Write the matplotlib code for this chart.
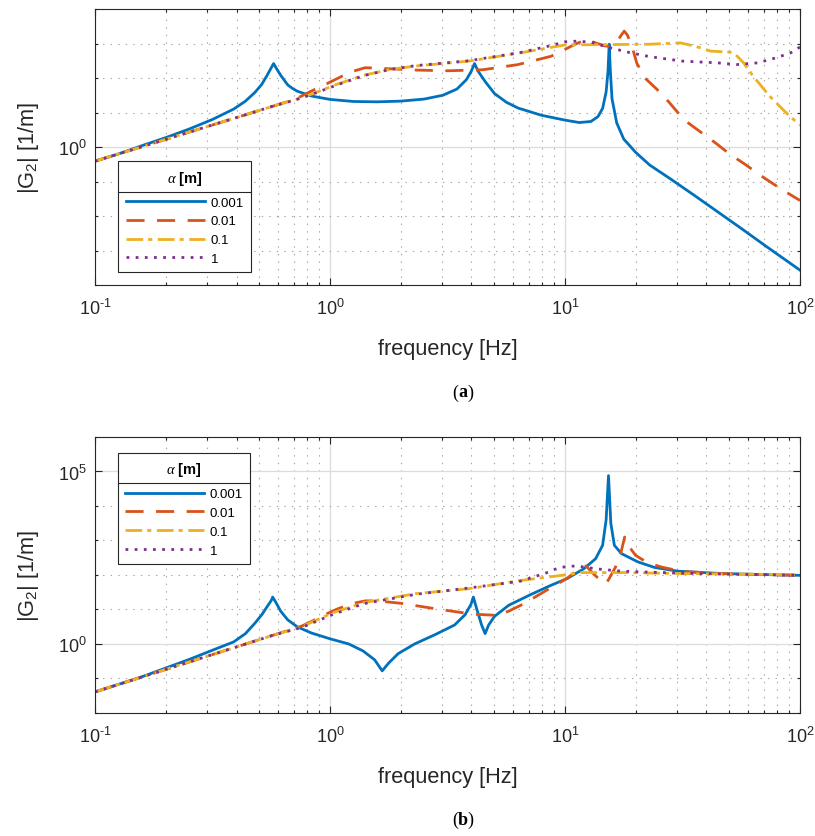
import numpy as np
import matplotlib
matplotlib.use("Agg")
import matplotlib.pyplot as plt
from matplotlib.ticker import FixedLocator, LogLocator, NullFormatter, FuncFormatter
from matplotlib.lines import Line2D

plt.rcParams['font.family'] = 'Liberation Sans'
plt.rcParams['mathtext.fontset'] = 'custom'
plt.rcParams['mathtext.rm'] = 'Liberation Sans'
plt.rcParams['mathtext.it'] = 'Liberation Serif:italic'
plt.rcParams['mathtext.bf'] = 'Liberation Sans:bold'

# data, as log10(frequency) and log10(|G2|)
alpha_labels = ['0.001', '0.01', '0.1', '1']

# (a)
a1_logf = [-1.0, -0.9, -0.8, -0.7, -0.6, -0.5, -0.41, -0.36, -0.32, -0.29, -0.266, -0.25, -0.24, -0.23,
           -0.21, -0.18, -0.16, -0.14, -0.08, 0.0, 0.1, 0.2, 0.3, 0.4, 0.48, 0.54, 0.58, 0.60, 0.615, 0.63,
           0.66, 0.70, 0.75, 0.80, 0.90, 1.00, 1.06, 1.11, 1.14, 1.16, 1.175, 1.183, 1.188, 1.193, 1.20,
           1.22, 1.25, 1.30, 1.36, 1.45, 1.55, 1.65, 1.75, 1.85, 1.95, 2.0]
a1_logg = [-0.41, -0.2, 0.04, 0.27, 0.52, 0.80, 1.10, 1.33, 1.58, 1.82, 2.10, 2.30, 2.42, 2.30,
           2.08, 1.80, 1.70, 1.62, 1.48, 1.38, 1.32, 1.31, 1.33, 1.39, 1.50, 1.68, 1.95, 2.18, 2.42, 2.20,
           1.90, 1.55, 1.30, 1.13, 0.92, 0.78, 0.71, 0.74, 0.88, 1.12, 1.6, 2.2, 2.98, 2.2, 1.4,
           0.70, 0.23, -0.15, -0.52, -0.93, -1.40, -1.88, -2.36, -2.85, -3.33, -3.57]

a2_logf = [-1.0, -0.7, -0.4, -0.24, -0.15, -0.08, 0.0, 0.05, 0.10, 0.15, 0.25, 0.37, 0.5, 0.65, 0.8,
           0.94, 1.0, 1.04, 1.09, 1.13, 1.17, 1.19, 1.22, 1.24, 1.252, 1.265, 1.285, 1.305, 1.34, 1.39,
           1.44, 1.48, 1.52, 1.58, 1.64, 1.70, 1.77, 1.84, 1.92, 2.0]
a2_logg = [-0.41, 0.22, 0.85, 1.19, 1.38, 1.62, 1.88, 2.05, 2.20, 2.30, 2.27, 2.23, 2.21, 2.24, 2.39,
           2.63, 2.83, 2.97, 3.12, 3.02, 2.93, 2.92, 3.04, 3.25, 3.36, 3.25, 2.92, 2.44, 2.0, 1.68,
           1.32, 1.0, 0.72, 0.42, 0.12, -0.20, -0.52, -0.86, -1.22, -1.55]

a3_logf = [-1.0, -0.7, -0.4, -0.24, -0.15, -0.08, 0.03, 0.144, 0.255, 0.366, 0.59, 0.81, 1.0, 1.2,
           1.36, 1.49, 1.55, 1.62, 1.70, 1.72, 1.76, 1.80, 1.87, 1.94, 2.0]
a3_logg = [-0.41, 0.22, 0.85, 1.19, 1.37, 1.53, 1.82, 2.08, 2.25, 2.35, 2.49, 2.73, 2.96, 2.97,
           2.98, 3.02, 2.93, 2.78, 2.75, 2.72, 2.44, 2.06, 1.48, 1.0, 0.63]

a4_logf = [-1.0, -0.7, -0.4, -0.24, -0.15, -0.08, 0.03, 0.144, 0.255, 0.366, 0.59, 0.81, 0.94, 1.0,
           1.05, 1.11, 1.19, 1.28, 1.36, 1.5, 1.65, 1.73, 1.82, 1.90, 1.96, 2.0]
a4_logg = [-0.41, 0.22, 0.85, 1.19, 1.36, 1.52, 1.80, 2.07, 2.25, 2.36, 2.50, 2.74, 2.94, 3.05,
           3.07, 3.04, 2.88, 2.73, 2.62, 2.49, 2.44, 2.39, 2.44, 2.59, 2.73, 2.90]

# (b)
b1_logf = [-1.0, -0.9, -0.8, -0.7, -0.6, -0.5, -0.41, -0.36, -0.32, -0.29, -0.266, -0.25, -0.244, -0.23,
           -0.21, -0.18, -0.14, -0.08, 0.0, 0.08, 0.14, 0.19, 0.222, 0.25, 0.29, 0.36, 0.45, 0.53, 0.575,
           0.60, 0.61, 0.625, 0.645, 0.66, 0.675, 0.70, 0.76, 0.85, 0.94, 1.01, 1.08, 1.13, 1.16, 1.175,
           1.185, 1.195, 1.21, 1.24, 1.31, 1.38, 1.48, 1.67, 2.0]
b1_logg = [-1.39, -1.17, -0.95, -0.70, -0.45, -0.18, 0.06, 0.30, 0.60, 0.85, 1.10, 1.26, 1.36, 1.2,
           0.95, 0.70, 0.50, 0.32, 0.15, 0.0, -0.2, -0.46, -0.78, -0.55, -0.28, 0.0, 0.28, 0.55, 0.85,
           1.15, 1.36, 1.0, 0.55, 0.30, 0.55, 0.80, 1.12, 1.42, 1.70, 1.90, 2.18, 2.47, 2.86, 3.6,
           4.88, 3.5, 2.86, 2.62, 2.38, 2.22, 2.11, 2.04, 1.99]

b2_logf = [-1.0, -0.7, -0.4, -0.244, -0.12, -0.08, 0.0, 0.033, 0.10, 0.15, 0.20, 0.30, 0.45, 0.55,
           0.62, 0.71, 0.76, 0.82, 0.92, 1.01, 1.07, 1.09, 1.12, 1.15, 1.175, 1.19, 1.215, 1.235, 1.254,
           1.27, 1.30, 1.35, 1.41, 1.5, 1.7, 2.0]
b2_logg = [-1.39, -0.74, -0.09, 0.25, 0.52, 0.65, 0.92, 1.02, 1.18, 1.25, 1.25, 1.18, 1.02, 0.92,
           0.86, 0.83, 0.95, 1.15, 1.55, 1.91, 2.23, 2.26, 2.04, 1.85, 1.75, 1.92, 2.23, 2.57, 3.10,
           2.85, 2.57, 2.36, 2.23, 2.10, 2.03, 1.99]

b3_logf = [-1.0, -0.7, -0.4, -0.244, -0.12, 0.01, 0.144, 0.366, 0.588, 0.81, 0.987, 1.07, 1.25, 1.5, 2.0]
b3_logg = [-1.39, -0.74, -0.09, 0.25, 0.50, 0.90, 1.20, 1.46, 1.60, 1.84, 1.99, 2.07, 2.07, 2.04, 2.01]

b4_logf = [-1.0, -0.7, -0.4, -0.244, -0.12, 0.01, 0.144, 0.366, 0.588, 0.81, 0.92, 0.97, 1.01, 1.05,
           1.13, 1.24, 1.5, 2.0]
b4_logg = [-1.39, -0.74, -0.09, 0.25, 0.48, 0.85, 1.17, 1.44, 1.62, 1.82, 2.06, 2.20, 2.25, 2.26,
           2.18, 2.11, 2.05, 1.99]

colors = ['#0072BD', '#D95319', '#EDB120', '#7E2F8E']
styles = ['-', (0, (6.5, 4.5)), (0, (6, 1.8, 1.5, 2.0)), (0, (1, 2.3))]
axis_col = '#262626'


def pow10_label(v, pos):
    k = int(round(np.log10(v)))
    return r'$\mathdefault{10^{%s}}$' % str(k).replace('-', '\u2010')


def draw_panel(ax, series, ylog_range, major_exp, leg_anchor):
    for (lf, lg), c, ls, lab in zip(series, colors, styles, alpha_labels):
        ax.plot(10 ** np.array(lf), 10 ** np.array(lg), color=c, ls=ls, lw=2.0, label=lab)
    ax.set_xscale('log')
    ax.set_yscale('log')
    ax.set_xlim(0.1, 100)
    ax.set_ylim(10.0 ** ylog_range[0], 10.0 ** ylog_range[1])

    ax.xaxis.set_major_locator(LogLocator(base=10, numticks=10))
    ax.xaxis.set_minor_locator(LogLocator(base=10, subs=np.arange(2, 10), numticks=20))
    ax.xaxis.set_major_formatter(FuncFormatter(pow10_label))
    ax.xaxis.set_minor_formatter(NullFormatter())
    decades = range(ylog_range[0], ylog_range[1] + 1)
    ax.yaxis.set_major_locator(FixedLocator([10.0 ** k for k in major_exp]))
    ax.yaxis.set_minor_locator(FixedLocator([10.0 ** k for k in decades if k not in major_exp]))
    ax.yaxis.set_major_formatter(FuncFormatter(pow10_label))
    ax.yaxis.set_minor_formatter(NullFormatter())

    ax.set_axisbelow(True)
    ax.grid(True, which='major', color='#dcdcdc', lw=0.9, ls='-')
    ax.grid(True, which='minor', color='#a8a8a8', lw=0.8, ls=(0, (1.3, 5.5)))
    ax.tick_params(which='both', direction='in', top=True, right=True, colors=axis_col,
                   labelsize=13, width=0.8)
    ax.tick_params(which='major', length=5)
    ax.tick_params(which='minor', length=2.5)
    ax.tick_params(axis='x', which='major', pad=9)
    ax.tick_params(axis='y', which='major', pad=6)
    for sp in ax.spines.values():
        sp.set_color(axis_col)
        sp.set_linewidth(0.8)

    ax.set_xlabel('frequency [Hz]', fontsize=15.7, color=axis_col)
    ax.set_ylabel('|G$_2$| [1/m]', fontsize=15.7, color=axis_col)
    ax.xaxis.set_label_coords(0.5, -0.192)
    ax.yaxis.set_label_coords(-0.077, 0.5)

    leg = ax.legend(loc='upper left', bbox_to_anchor=leg_anchor, borderaxespad=0,
                    title=r'$\alpha$ $\mathbf{[m]}$', fontsize=9.5, title_fontsize=10.5,
                    handlelength=6.0, handletextpad=0.45, borderpad=0.55, labelspacing=0.5,
                    fancybox=False, framealpha=1, edgecolor=axis_col)
    leg.get_frame().set_linewidth(0.8)
    leg._legend_box.sep = 7.0
    return leg


fig = plt.figure(figsize=(8.15, 8.37), dpi=100)
ax_a = fig.add_axes([0.1166, 0.6583, 0.865, 0.3297])
ax_b = fig.add_axes([0.1166, 0.1470, 0.865, 0.3297])

leg_a = draw_panel(ax_a, [(a1_logf, a1_logg), (a2_logf, a2_logg), (a3_logf, a3_logg), (a4_logf, a4_logg)],
                   (-4, 4), [0], (0.033, 0.448))
leg_b = draw_panel(ax_b, [(b1_logf, b1_logg), (b2_logf, b2_logg), (b3_logf, b3_logg), (b4_logf, b4_logg)],
                   (-2, 6), [0, 5], (0.032, 0.942))

# separator line under the legend title
fig.canvas.draw()
renderer = fig.canvas.get_renderer()
inv = fig.transFigure.inverted()
for leg in (leg_a, leg_b):
    box = leg.get_window_extent(renderer)
    tb = leg.get_title().get_window_extent(renderer)
    t0 = leg.get_texts()[0].get_window_extent(renderer)
    ysep = (tb.y0 + t0.y1) / 2
    (x0, y0) = inv.transform((box.x0, ysep))
    (x1, _) = inv.transform((box.x1, ysep))
    fig.add_artist(Line2D([x0, x1], [y0, y0], color=axis_col, lw=0.8, transform=fig.transFigure))

# captions (a) and (b)
for ycap, letter in ((0.5305, 'a'), (0.0203, 'b')):
    fig.text(0.568, ycap, letter, family='Liberation Serif', weight='bold', fontsize=13,
             ha='center', va='center')
    fig.text(0.5622, ycap, '(', family='Liberation Serif', fontsize=13, ha='right', va='center')
    fig.text(0.5738, ycap, ')', family='Liberation Serif', fontsize=13, ha='left', va='center')

fig.savefig('out.png', dpi=100)
